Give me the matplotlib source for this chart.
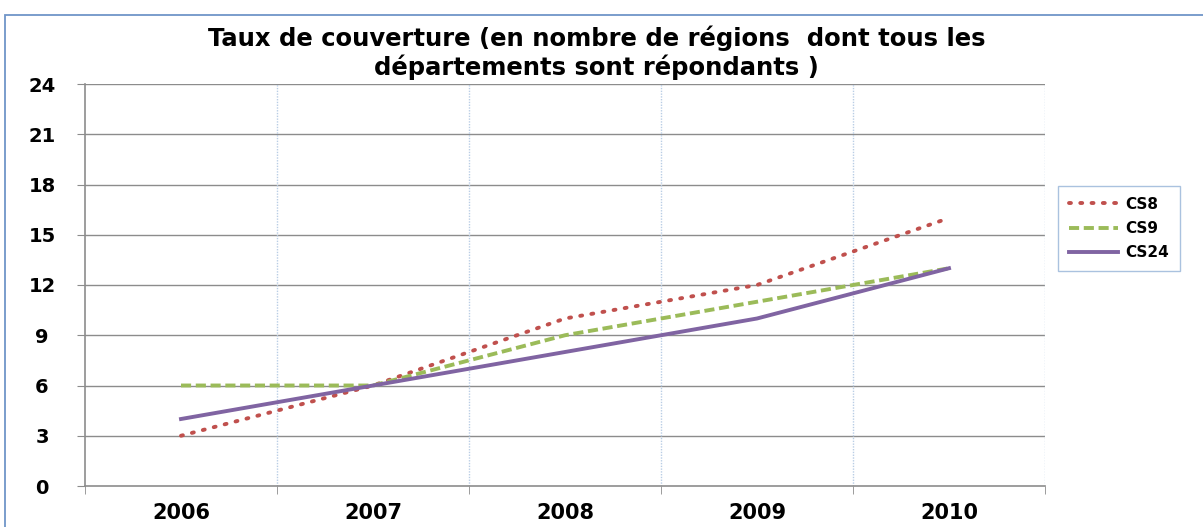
import numpy as np
import matplotlib.pyplot as plt
from matplotlib.patches import Rectangle

plt.rcParams['font.family'] = ['DejaVu Sans']

# data
years = ['2006', '2007', '2008', '2009', '2010']
cs8 = [3, 6, 10, 12, 16]
cs9 = [6, 6, 9, 11, 13]
cs24 = [4, 6, 8, 10, 13]
y_ticks = [0, 3, 6, 9, 12, 15, 18, 21, 24]

fig = plt.figure(figsize=(12.03, 5.27), dpi=100)
# plot area in pixels: x 85..1045, y 84..486
ax = fig.add_axes([85 / 1203, 1 - 486 / 527, 960 / 1203, 402 / 527])

x = np.arange(len(years))
ax.plot(x, cs8, color='#c0504d', lw=2.8, linestyle=(0, (0.5, 2.4)),
        dash_capstyle='round', label='CS8')
ax.plot(x, cs9, color='#9bbb59', lw=2.8, linestyle=(0, (2.6, 1.2)), label='CS9')
ax.plot(x, cs24, color='#8064a2', lw=2.8, label='CS24')

ax.set_xlim(-0.5, len(years) - 0.5)
ax.set_ylim(0, 24)
ax.set_yticks(y_ticks)
ax.set_yticklabels([str(v) for v in y_ticks], fontsize=14, fontweight='bold')
ax.set_xticks(x)
ax.set_xticklabels(years, fontsize=15, fontweight='bold')

# horizontal gridlines
for v in y_ticks[1:]:
    ax.axhline(v, color='#8c8c8c', lw=1.0, zorder=0)
# vertical dotted gridlines at category boundaries
for b in np.arange(0.5, len(years) + 0.5, 1.0):
    ax.axvline(b, color='#b9cde5', lw=1.0, linestyle=(0, (1, 1)), zorder=0)

# ticks at category boundaries on x axis
ax.set_xticks(np.arange(-0.5, len(years), 1.0), minor=True)
ax.tick_params(axis='x', which='major', length=0, pad=12)
ax.tick_params(axis='x', which='minor', length=6, color='#8c8c8c')
ax.tick_params(axis='y', length=6, color='#8c8c8c', pad=25)
for lab in ax.get_yticklabels():
    lab.set_horizontalalignment('center')

for s in ['top', 'right']:
    ax.spines[s].set_visible(False)
ax.spines['left'].set_color('#8c8c8c')
ax.spines['bottom'].set_color('#8c8c8c')
ax.spines['left'].set_linewidth(1.2)
ax.spines['bottom'].set_linewidth(1.2)

fig.text(0.496, 1 - 53 / 527,
         'Taux de couverture (en nombre de régions  dont tous les\ndépartements sont répondants )',
         ha='center', va='center', fontsize=17.5, fontweight='bold', linespacing=1.15)

leg = fig.legend(loc='upper left', bbox_to_anchor=(1058 / 1203, 1 - 186 / 527),
                 borderaxespad=0, frameon=True, fancybox=False, handlelength=3.2,
                 handletextpad=0.5, borderpad=0.7, labelspacing=0.6,
                 prop={'weight': 'bold', 'size': 11})
leg.get_frame().set_edgecolor('#95b3d7')
leg.get_frame().set_linewidth(1.0)

# outer chart frame
fig.patches.append(Rectangle((5 / 1203, -0.01), 1.1, 1 - 15 / 527 + 0.01,
                             transform=fig.transFigure, fill=False,
                             edgecolor='#6f95c8', lw=1.3))

fig.savefig('out.png', dpi=100)
